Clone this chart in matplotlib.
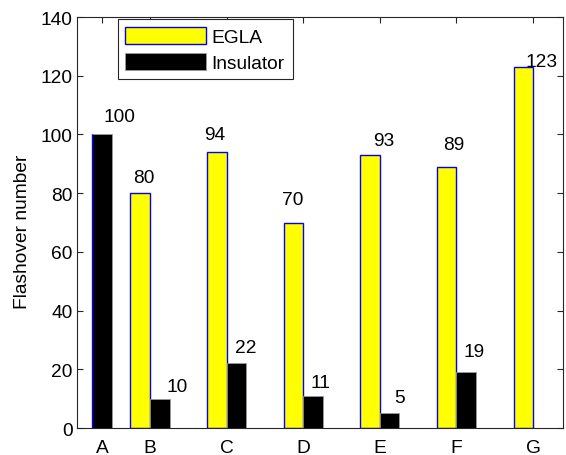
import matplotlib
matplotlib.use("Agg")
from matplotlib import pyplot as plt
import numpy as np

plt.rcParams['font.family'] = ['Liberation Sans', 'DejaVu Sans']

# data
cats = ['A', 'B', 'C', 'D', 'E', 'F', 'G']
xpos = [0.373, 1, 2, 3, 4, 5, 6]
egla = [None, 80, 94, 70, 93, 89, 123]
insulator = [100, 10, 22, 11, 5, 19, None]

# label nudges in pixels (hand placed in the original)
egla_off = [None, (4, 16), (-2, 18), (-1, 23), (14, 14), (7, 22), (18, 5)]
ins_off = [(17, 18), (17, 12), (9, 16), (7, 13), (10, 16), (8, 21), None]

fs = 13.8
w = 0.255
fig = plt.figure(figsize=(5.66, 4.56), dpi=100)
ax = fig.add_axes([0.136, 0.0592, 0.8587, 0.9013])

ex = [x for x, v in zip(xpos, egla) if v is not None]
ev = [v for v in egla if v is not None]
b1 = ax.bar(ex, ev, width=-w, align='edge', color='#ffff00',
            edgecolor='#0000ff', linewidth=1, label='EGLA', zorder=2)

# A has only an insulator bar, centred on its tick
ix, iv = [], []
for x, v, e in zip(xpos, insulator, egla):
    if v is None:
        continue
    ix.append(x - w / 2 if e is None else x)
    iv.append(v)
b2 = ax.bar(ix, iv, width=w, align='edge', color='black',
            edgecolor='#9a9a9a', linewidth=0.6, label='Insulator', zorder=2)
# blue edge on the left of bar A
pA = b2.patches[0]
ax.vlines(pA.get_x(), 0, pA.get_height(), colors='#0000ff', linewidth=1, zorder=3)

for p, v, off in zip(b1.patches, ev, [o for o in egla_off if o is not None]):
    ax.annotate(str(v), (p.get_x() + p.get_width() / 2, v), xytext=off,
                textcoords='offset pixels', ha='center', va='center', fontsize=fs)
for p, v, off in zip(b2.patches, iv, [o for o in ins_off if o is not None]):
    ax.annotate(str(v), (p.get_x() + p.get_width() / 2, v), xytext=off,
                textcoords='offset pixels', ha='center', va='center', fontsize=fs)

ax.set_xlim(0.047, 6.39)
ax.set_ylim(0, 140)
ax.set_xticks(xpos)
ax.set_xticklabels(cats)
ax.set_yticks(np.arange(0, 141, 20))
ax.tick_params(direction='in', top=True, right=True, length=4, width=0.8,
               labelsize=fs, colors='#262626', labelcolor='black')
ax.tick_params(axis='x', pad=8)
ax.tick_params(axis='y', pad=3)
for s in ax.spines.values():
    s.set_color('#262626')
    s.set_linewidth(0.8)
ax.set_ylabel('Flashover number', fontsize=fs)
ax.yaxis.set_label_coords(-0.095, 0.479)

leg = ax.legend(loc='upper left', bbox_to_anchor=(0.084, 0.995), borderaxespad=0,
                fancybox=False, framealpha=1, edgecolor='#262626', fontsize=fs,
                handlelength=4.2, handleheight=1.0, handletextpad=0.3,
                labelspacing=0.35, borderpad=0.4)
leg.get_frame().set_linewidth(0.8)

fig.savefig('out.png', dpi=100)
